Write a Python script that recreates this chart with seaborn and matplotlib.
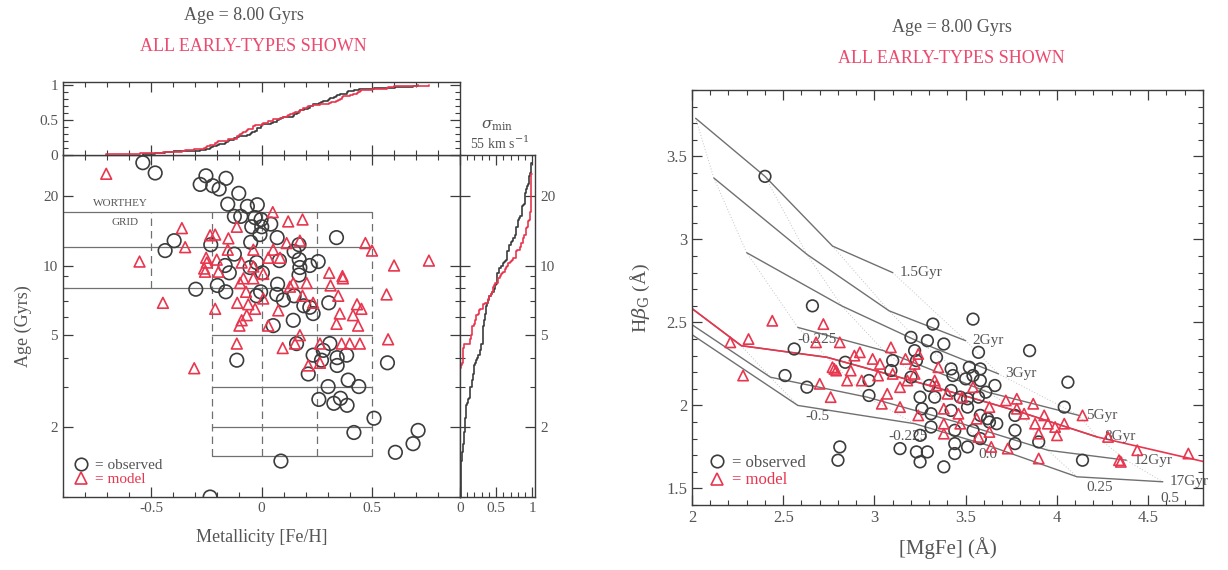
import numpy as np
import matplotlib
matplotlib.use('Agg')
import matplotlib.pyplot as plt
from matplotlib.ticker import (MultipleLocator, FixedLocator, FixedFormatter,
                               LogLocator, NullFormatter, FormatStrFormatter)
from matplotlib.lines import Line2D
import seaborn as sns

nan = np.nan

# ---- left panel: metallicity / age of each galaxy ----
feh_obs = [-0.538, -0.482, -0.252, -0.278, -0.221, -0.192, -0.161, -0.103, -0.153, -0.064,
           -0.019, -0.123, -0.094, -0.029, -0.002, 0.042, -0.044, 0.001, -0.007, 0.071,
           -0.049, -0.396, -0.437, -0.230, -0.123, 0.148, 0.170, 0.340, 0.081, 0.171,
           0.257, 0.219, -0.165, -0.146, -0.022, -0.052, 0.004, 0.174, 0.170, -0.200,
           -0.162, -0.298, -0.004, -0.022, 0.073, 0.069, 0.099, 0.148, 0.192, 0.234,
           0.305, 0.144, 0.053, 0.219, 0.159, 0.310, -0.112, 0.234, 0.280, 0.343,
           0.386, 0.272, 0.343, 0.212, 0.302, 0.393, 0.441, 0.260, 0.328, 0.358,
           0.388, 0.510, 0.419, 0.571, 0.710, 0.687, 0.607, 0.088, -0.233]
age_obs = [27.8, 25.1, 24.4, 22.4, 22.1, 21.4, 23.8, 20.5, 18.4, 18.0,
           18.3, 16.3, 16.3, 16.1, 15.8, 15.1, 14.7, 14.7, 13.6, 13.2,
           12.6, 12.8, 11.6, 12.3, 11.2, 11.5, 12.3, 13.2, 10.5, 10.6,
           10.4, 10.0, 10.0, 9.3, 10.3, 9.8, 9.3, 9.8, 9.1, 8.2,
           7.7, 7.9, 7.7, 7.4, 8.3, 7.5, 7.1, 7.4, 6.7, 6.2,
           6.9, 5.8, 5.5, 6.6, 4.6, 4.6, 3.9, 4.1, 4.3, 4.0,
           4.1, 3.9, 3.7, 3.4, 3.0, 3.2, 3.0, 2.64, 2.54, 2.67,
           2.49, 2.19, 1.90, 3.8, 1.94, 1.70, 1.56, 1.43, 1.0]

feh_mod = [-0.704, -0.361, -0.346, -0.553, -0.447, -0.210, -0.150, -0.112, 0.051, 0.121,
           0.186, 0.114, 0.174, 0.053, -0.251, -0.260, -0.256, -0.203, -0.090, -0.037,
           0.031, 0.084, -0.195, -0.082, -0.037, 0.008, -0.097, -0.070, -0.110, -0.060,
           0.008, -0.210, -0.067, -0.090, -0.100, -0.029, 0.076, 0.031, 0.129, 0.144,
           0.205, 0.186, 0.234, 0.307, 0.367, 0.369, 0.313, 0.348, 0.355, 0.340,
           0.415, 0.433, 0.453, 0.438, 0.471, 0.501, 0.601, 0.759, 0.567, 0.574,
           0.096, -0.112, -0.305, 0.174, 0.212, 0.265, 0.363, 0.400, 0.446, 0.265,
           -0.233, -0.153, -0.037, -0.248, 0.152]
age_mod = [24.9, 14.5, 12.0, 10.4, 6.9, 13.6, 13.1, 14.7, 17.0, 15.5,
           15.8, 12.5, 12.8, 11.7, 10.8, 9.7, 9.4, 10.6, 10.3, 9.9,
           10.8, 10.8, 9.4, 8.8, 8.8, 9.2, 8.4, 7.7, 6.9, 6.8,
           7.2, 6.5, 6.1, 5.8, 5.5, 6.5, 6.4, 5.5, 8.1, 8.4,
           8.4, 7.4, 6.9, 9.3, 9.0, 8.8, 8.2, 7.4, 6.2, 5.6,
           6.1, 6.8, 6.5, 5.5, 12.5, 11.6, 10.0, 10.5, 7.5, 4.8,
           4.4, 4.6, 3.6, 5.0, 3.7, 4.6, 4.6, 4.6, 4.6, 3.8,
           13.5, 11.7, 11.7, 10.3, 4.6]

# ---- right panel: index-index diagram ----
mgfe_obs = [2.40, 2.66, 3.32, 3.54, 2.56, 2.51, 2.63, 2.84, 2.81, 2.80,
            2.97, 2.97, 3.10, 3.09, 3.20, 3.22, 3.29, 3.23, 3.20, 3.30,
            3.25, 3.31, 3.31, 3.25, 3.14, 3.23, 3.29, 3.25, 3.38, 3.34,
            3.57, 3.85, 3.42, 3.52, 3.58, 3.43, 3.50, 3.54, 3.58, 3.66,
            3.61, 4.06, 4.04, 3.33, 3.42, 3.47, 3.51, 3.57, 3.26, 3.42,
            3.51, 3.58, 3.62, 3.63, 3.67, 3.77, 3.77, 3.90, 3.44, 3.54,
            3.44, 3.58, 3.51, 3.77, 3.44, 3.38, 4.14]
hbeta_obs = [3.38, 2.60, 2.49, 2.52, 2.34, 2.18, 2.11, 2.26, 1.75, 1.67,
             2.15, 2.06, 2.27, 2.21, 2.41, 2.33, 2.39, 2.27, 2.17, 2.12,
             2.05, 1.95, 1.87, 1.82, 1.74, 1.72, 1.72, 1.66, 2.37, 2.29,
             2.32, 2.33, 2.22, 2.23, 2.22, 2.18, 2.16, 2.18, 2.15, 2.12,
             2.08, 2.14, 1.99, 2.05, 2.09, 2.05, 2.04, 2.05, 1.98, 1.97,
             1.99, 1.94, 1.92, 1.90, 1.89, 1.94, 1.85, 1.78, 1.85, 1.85,
             1.77, 1.80, 1.75, 1.77, 1.71, 1.63, 1.67]

mgfe_mod = [2.44, 2.72, 2.21, 2.31, 2.28, 2.68, 2.81, 2.70, 2.76, 2.77,
            2.79, 2.78, 2.85, 2.87, 2.89, 2.92, 2.93, 2.99, 3.03, 3.02,
            3.09, 3.10, 3.07, 3.04, 3.14, 3.14, 3.18, 3.24, 3.22, 3.24,
            3.35, 3.33, 3.17, 3.22, 3.34, 3.40, 3.48, 3.54, 3.38, 3.46,
            3.56, 3.63, 3.38, 3.47, 3.38, 3.63, 3.64, 3.73, 3.72, 3.78,
            3.87, 3.78, 3.82, 3.88, 3.93, 3.95, 3.99, 4.00, 4.04, 3.90,
            3.90, 4.14, 4.28, 4.34, 4.35, 4.44, 4.72, 3.57]
hbeta_mod = [2.51, 2.49, 2.38, 2.40, 2.18, 2.38, 2.38, 2.13, 2.05, 2.23,
             2.21, 2.22, 2.15, 2.21, 2.30, 2.32, 2.15, 2.28, 2.25, 2.18,
             2.35, 2.19, 2.07, 2.01, 1.99, 2.11, 2.15, 1.94, 2.25, 2.31,
             2.23, 2.15, 2.28, 2.19, 2.12, 2.07, 2.05, 2.11, 1.98, 1.95,
             1.92, 1.99, 1.89, 1.89, 1.83, 1.84, 1.75, 1.74, 2.03, 2.04,
             2.01, 1.98, 1.95, 1.89, 1.94, 1.89, 1.87, 1.82, 1.89, 1.83,
             1.68, 1.94, 1.81, 1.67, 1.66, 1.73, 1.71, 1.81]

# Worthey model grid: rows = ages, columns = [Fe/H]
worthey_ages = [1.5, 2, 3, 5, 8, 12, 17]
worthey_feh = [-1.0, -0.5, -0.225, 0.0, 0.25, 0.5]
grid_mgfe = [[nan, nan, 2.02, 2.40, 2.77, 3.10],
             [nan, nan, 2.12, 2.63, 3.08, 3.50],
             [nan, nan, 2.30, 2.82, 3.25, 3.68],
             [nan, nan, 2.58, 3.05, 3.62, 4.12],
             [1.92, 2.27, 2.74, 3.30, 3.80, 4.22],
             [1.90, 2.43, 2.96, 3.45, 3.95, 4.38],
             [1.90, 2.58, 3.22, 3.62, 4.11, 4.58]]
grid_hbeta = [[nan, nan, 3.73, 3.38, 2.96, 2.80],
              [nan, nan, 3.37, 2.91, 2.57, 2.39],
              [nan, nan, 2.92, 2.60, 2.38, 2.19],
              [nan, nan, 2.47, 2.33, 2.08, 1.94],
              [2.65, 2.36, 2.29, 2.12, 1.96, 1.81],
              [2.56, 2.17, 2.05, 1.90, 1.73, 1.67],
              [2.50, 2.00, 1.89, 1.76, 1.57, 1.54]]
age_labels = ['1.5Gyr', '2Gyr', '3Gyr', '5Gyr', '8Gyr', '12Gyr', '17Gyr']
feh_labels = ['-0.5', '-0.225', '0.0', '0.25', '0.5']

# 8 Gyr model track (red)
track_mgfe = [1.92, 2.27, 2.74, 3.30, 3.80, 4.22, 4.85]
track_hbeta = [2.65, 2.36, 2.29, 2.12, 1.96, 1.81, 1.65]

INK = '#3c3c3c'
TXT = '#555555'
RED = '#e8364e'
RED_TXT = '#ec4a6e'
GRID = '#707070'

sns.set_style('ticks', {'xtick.direction': 'in', 'ytick.direction': 'in',
                        'axes.edgecolor': INK})
plt.rcParams['font.family'] = ['Liberation Serif', 'DejaVu Serif']
plt.rcParams['mathtext.fontset'] = 'dejavuserif'
plt.rcParams['axes.unicode_minus'] = False

fig = plt.figure(figsize=(12.28, 5.7), dpi=100)
ax_main = fig.add_axes([0.0513, 0.128, 0.3233, 0.600])
ax_top = fig.add_axes([0.0513, 0.728, 0.3233, 0.128])
ax_side = fig.add_axes([0.3746, 0.128, 0.0611, 0.600])
ax_r = fig.add_axes([0.5635, 0.114, 0.4161, 0.728])


def style(ax, size=11):
    ax.tick_params(which='both', direction='in', top=True, right=True,
                   color=INK, labelcolor=TXT, labelsize=size)
    ax.tick_params(which='major', length=7, width=0.9)
    ax.tick_params(which='minor', length=3.5, width=0.8)
    for s in ax.spines.values():
        s.set_color(INK)
        s.set_linewidth(1.0)


# ---------------- left: age vs metallicity ----------------
gm = np.array(grid_mgfe)
for i, age in enumerate(worthey_ages):
    fehs = np.array(worthey_feh)[~np.isnan(gm[i])]
    ax_main.plot([fehs.min(), fehs.max()], [age, age], color=GRID, lw=0.9)
for j, z in enumerate(worthey_feh):
    ages = np.array(worthey_ages)[~np.isnan(gm[:, j])]
    ax_main.plot([z, z], [ages.min(), ages.max()], color=GRID, lw=0.9, ls=(0, (6, 4)))

sns.scatterplot(x=feh_obs, y=age_obs, ax=ax_main, marker='o', s=95,
                facecolor='none', edgecolor=INK, linewidth=1.2, zorder=3)
sns.scatterplot(x=feh_mod, y=age_mod, ax=ax_main, marker='^', s=60,
                facecolor='none', edgecolor=RED, linewidth=1.2, zorder=3)

ax_main.set_yscale('log')
ax_main.set_xlim(-0.9, 0.9)
ax_main.set_ylim(1, 30)
ax_main.xaxis.set_major_locator(MultipleLocator(0.5))
ax_main.xaxis.set_minor_locator(MultipleLocator(0.1))
ax_main.xaxis.set_major_formatter(FormatStrFormatter('%g'))
ax_main.yaxis.set_major_locator(FixedLocator([2, 5, 10, 20]))
ax_main.yaxis.set_major_formatter(FixedFormatter(['2', '5', '10', '20']))
ax_main.yaxis.set_minor_locator(LogLocator(base=10, subs=np.arange(1, 10)))
ax_main.yaxis.set_minor_formatter(NullFormatter())
style(ax_main)
ax_main.set_xlabel('Metallicity [Fe/H]', fontsize=13, color=TXT, labelpad=10)
ax_main.set_ylabel('Age (Gyrs)', fontsize=13, color=TXT, labelpad=8)
ax_main.text(-0.64, 18.5, 'WORTHEY', fontsize=8, color=TXT, ha='center', va='center')
ax_main.text(-0.62, 15.3, 'GRID', fontsize=8, color=TXT, ha='center', va='center')

h_obs = Line2D([], [], marker='o', ls='none', mfc='none', mec=INK, ms=9, mew=1.2)
h_mod = Line2D([], [], marker='^', ls='none', mfc='none', mec=RED, ms=8, mew=1.2)
ax_main.legend([h_obs, h_mod], ['= observed', '= model'], loc='lower left',
               frameon=False, fontsize=11, labelcolor=[TXT, RED], handlelength=1.0,
               handletextpad=0.4, labelspacing=0.05, borderaxespad=0.3)

# top: cumulative [Fe/H]
sns.ecdfplot(x=feh_obs, ax=ax_top, color=INK, lw=1.2)
sns.ecdfplot(x=feh_mod, ax=ax_top, color=RED, lw=1.2)
ax_top.set_xlim(-0.9, 0.9)
ax_top.set_ylim(0, 1.04)
ax_top.xaxis.set_major_locator(MultipleLocator(0.5))
ax_top.xaxis.set_minor_locator(MultipleLocator(0.1))
ax_top.yaxis.set_major_locator(FixedLocator([0, 0.5, 1]))
ax_top.yaxis.set_major_formatter(FormatStrFormatter('%g'))
ax_top.yaxis.set_minor_locator(MultipleLocator(0.1))
style(ax_top)
ax_top.tick_params(labelbottom=False)
ax_top.set_xlabel('')
ax_top.set_ylabel('')

# side: cumulative age
sns.ecdfplot(y=age_obs, ax=ax_side, color=INK, lw=1.2)
sns.ecdfplot(y=age_mod, ax=ax_side, color=RED, lw=1.2)
ax_side.set_yscale('log')
ax_side.set_ylim(1, 30)
ax_side.set_xlim(0, 1.04)
ax_side.xaxis.set_major_locator(FixedLocator([0, 0.5, 1]))
ax_side.xaxis.set_major_formatter(FormatStrFormatter('%g'))
ax_side.xaxis.set_minor_locator(MultipleLocator(0.1))
ax_side.yaxis.set_major_locator(FixedLocator([2, 5, 10, 20]))
ax_side.yaxis.set_major_formatter(FixedFormatter(['2', '5', '10', '20']))
ax_side.yaxis.set_minor_locator(LogLocator(base=10, subs=np.arange(1, 10)))
ax_side.yaxis.set_minor_formatter(NullFormatter())
style(ax_side)
ax_side.tick_params(labelleft=False, labelright=True)
ax_side.set_xlabel('')
ax_side.set_ylabel('')

fig.text(0.405, 0.779, r'$\sigma_{\rm min}$', fontsize=11, color=TXT, ha='center', va='center')
fig.text(0.407, 0.749, r'55 km s$^{-1}$', fontsize=10, color=TXT, ha='center', va='center')

# ---------------- right: Hbeta_G vs [MgFe] ----------------
gh = np.array(grid_hbeta)
for j in range(len(worthey_feh)):
    ax_r.plot(gm[:, j], gh[:, j], color='#c4c4c4', lw=0.7, ls=(0, (1, 2)))
for i, lab in enumerate(age_labels):
    ax_r.plot(gm[i], gh[i], color=GRID, lw=1.0)
    k = np.where(~np.isnan(gm[i]))[0][-1]
    ax_r.annotate(lab, (gm[i, k], gh[i, k]), xytext=(5, 0), textcoords='offset points',
                  ha='left', va='center', fontsize=11, color=TXT)
ax_r.plot(track_mgfe, track_hbeta, color=RED, lw=1.2, zorder=2)

feh_label_offsets = [(14, -8), (-5, -9), (0, -7), (16, -8), (5, -12)]
for lab, j, off in zip(feh_labels, range(1, 6), feh_label_offsets):
    ax_r.annotate(lab, (gm[-1, j], gh[-1, j]), xytext=off, textcoords='offset points',
                  ha='center', va='center', fontsize=11, color=TXT)
ax_r.annotate('-0.225', (gm[3, 2], gh[3, 2]), xytext=(14, -9), textcoords='offset points',
              ha='center', va='center', fontsize=11, color=TXT)

sns.scatterplot(x=mgfe_obs, y=hbeta_obs, ax=ax_r, marker='o', s=70,
                facecolor='none', edgecolor=INK, linewidth=1.2, zorder=3)
sns.scatterplot(x=mgfe_mod, y=hbeta_mod, ax=ax_r, marker='^', s=55,
                facecolor='none', edgecolor=RED, linewidth=1.2, zorder=3)

ax_r.set_xlim(2, 4.8)
ax_r.set_ylim(1.4, 3.9)
ax_r.xaxis.set_major_locator(MultipleLocator(0.5))
ax_r.xaxis.set_minor_locator(MultipleLocator(0.1))
ax_r.yaxis.set_major_locator(MultipleLocator(0.5))
ax_r.yaxis.set_minor_locator(MultipleLocator(0.1))
ax_r.xaxis.set_major_formatter(FormatStrFormatter('%g'))
ax_r.yaxis.set_major_formatter(FormatStrFormatter('%g'))
style(ax_r, size=12)
ax_r.set_xlabel('[MgFe] (Å)', fontsize=15, color=TXT, labelpad=8)
ax_r.set_ylabel(r'H$\beta_{\rm G}$ (Å)', fontsize=14, color=TXT, labelpad=10)
ax_r.legend([h_obs, h_mod], ['= observed', '= model'], loc='lower left',
            frameon=False, fontsize=12, labelcolor=[TXT, RED], handlelength=1.0,
            handletextpad=0.4, labelspacing=0.1, borderaxespad=0.6)

# titles
fig.text(0.199, 0.973, 'Age = 8.00 Gyrs', fontsize=13, color=TXT, ha='center', va='center')
fig.text(0.206, 0.919, 'ALL EARLY-TYPES SHOWN', fontsize=13, color=RED_TXT, ha='center', va='center')
fig.text(0.775, 0.951, 'Age = 8.00 Gyrs', fontsize=13, color=TXT, ha='center', va='center')
fig.text(0.775, 0.898, 'ALL EARLY-TYPES SHOWN', fontsize=13, color=RED_TXT, ha='center', va='center')

fig.savefig('out.png', dpi=100)
